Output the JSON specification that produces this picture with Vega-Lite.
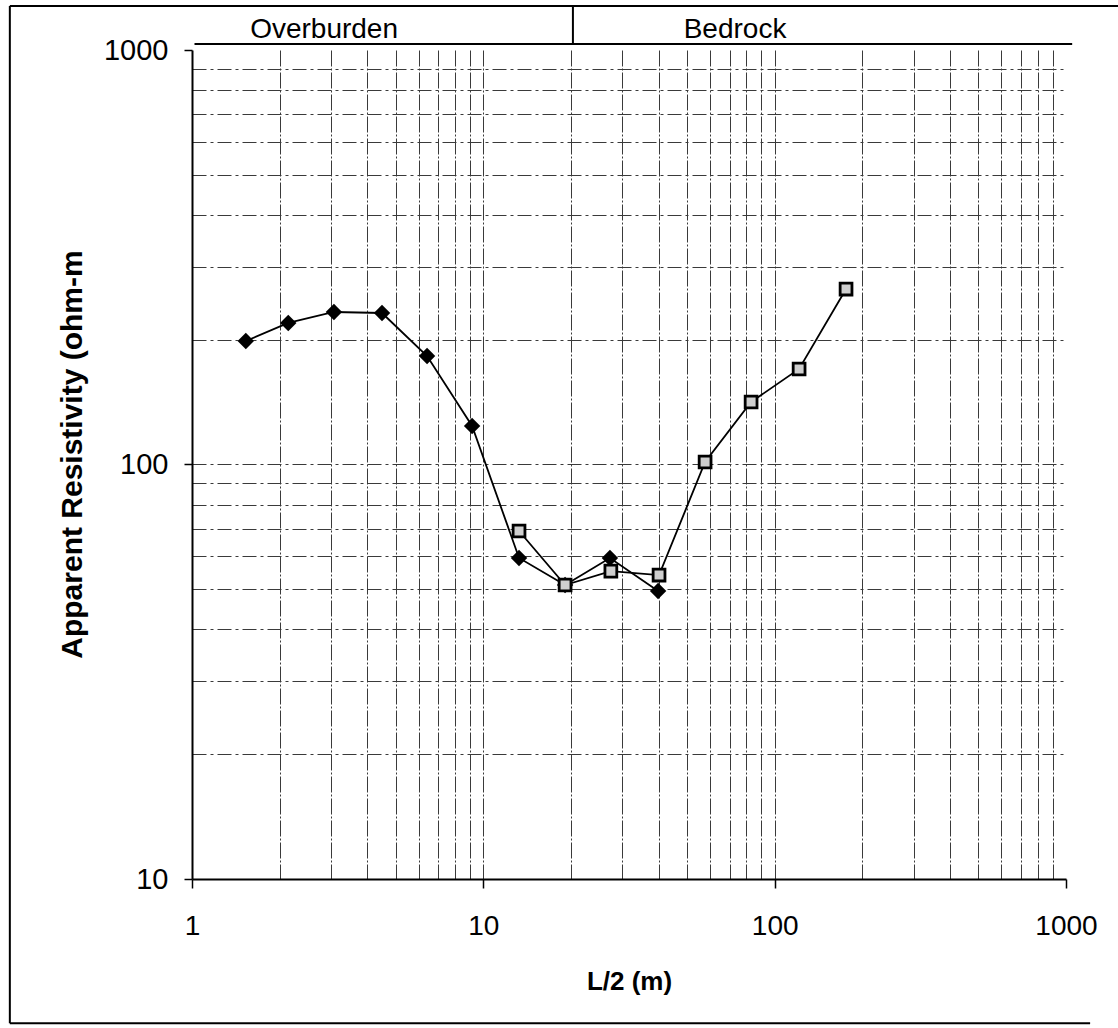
{
  "$schema": "https://vega.github.io/schema/vega-lite/v6.json",
  "width": 874,
  "height": 829,
  "autosize": {"type": "none"},
  "padding": {"left": 192, "top": 50, "right": 52, "bottom": 149},
  "background": "white",
  "config": {"view": {"stroke": null}, "font": "Liberation Sans"},
  "datasets": {
    "pts": [
      {"series": "Overburden fit", "i": 1, "x": 1.53, "y": 198.6},
      {"series": "Overburden fit", "i": 2, "x": 2.14, "y": 219.5},
      {"series": "Overburden fit", "i": 3, "x": 3.07, "y": 233.3},
      {"series": "Overburden fit", "i": 4, "x": 4.49, "y": 232},
      {"series": "Overburden fit", "i": 5, "x": 6.41, "y": 182.7},
      {"series": "Overburden fit", "i": 6, "x": 9.15, "y": 123.9},
      {"series": "Overburden fit", "i": 7, "x": 13.26, "y": 59.5},
      {"series": "Overburden fit", "i": 8, "x": 19.08, "y": 51.2},
      {"series": "Overburden fit", "i": 9, "x": 27.2, "y": 59.5},
      {"series": "Overburden fit", "i": 10, "x": 39.8, "y": 49.5},
      {"series": "Bedrock fit", "i": 1, "x": 13.26, "y": 69.1},
      {"series": "Bedrock fit", "i": 2, "x": 19.08, "y": 51.2},
      {"series": "Bedrock fit", "i": 3, "x": 27.4, "y": 55.3},
      {"series": "Bedrock fit", "i": 4, "x": 40.1, "y": 54.1},
      {"series": "Bedrock fit", "i": 5, "x": 57.7, "y": 101.4},
      {"series": "Bedrock fit", "i": 6, "x": 83.0, "y": 141.5},
      {"series": "Bedrock fit", "i": 7, "x": 121.3, "y": 170},
      {"series": "Bedrock fit", "i": 8, "x": 175.8, "y": 265}
    ],
    "frame": [
      {"part": "top", "x": 0.237, "y": 1277, "x2": 2000, "y2": 1277},
      {"part": "left", "x": 0.237, "y": 1277, "x2": 0.237, "y2": 4.49},
      {"part": "bottom", "x": 0.237, "y": 4.49, "x2": 1210, "y2": 4.49},
      {"part": "header bottom", "x": 1.02, "y": 1034, "x2": 1050, "y2": 1034},
      {"part": "divider", "x": 20.3, "y": 1277, "x2": 20.3, "y2": 1034}
    ],
    "header": [
      {"label": "Overburden", "x": 2.84, "y": 1069},
      {"label": "Bedrock", "x": 73.1, "y": 1069}
    ]
  },
  "layer": [
    {
      "data": {"name": "pts"},
      "transform": [{"filter": "datum.series == 'Overburden fit'"}],
      "mark": {"type": "line", "color": "black", "strokeWidth": 1.8},
      "encoding": {
        "x": {
          "field": "x", "type": "quantitative",
          "scale": {"type": "log", "domain": [1, 1000], "nice": false},
          "axis": {
            "title": "L/2 (m)",
            "titleFont": "Liberation Sans", "titleFontSize": 26, "titleFontWeight": "bold", "titleColor": "black", "titlePadding": 28,
            "values": [1, 2, 3, 4, 5, 6, 7, 8, 9, 10, 20, 30, 40, 50, 60, 70, 80, 90, 100, 200, 300, 400, 500, 600, 700, 800, 900, 1000],
            "labelExpr": "indexof([1,10,100,1000], datum.value) >= 0 ? format(datum.value, 'd') : ''",
            "labelOverlap": false, "labelFlush": false,
            "labelFontSize": 28, "labelColor": "black", "labelPadding": 24,
            "domainColor": "black", "domainWidth": 2,
            "tickColor": "black", "tickWidth": 1.5, "tickSize": 9,
            "tickOpacity": {"condition": {"test": "indexof([1,10,100,1000], datum.value) >= 0", "value": 1}, "value": 0},
            "grid": true, "gridColor": "#3a3a3a", "gridWidth": 1, "gridDash": [16, 2, 2, 2],
            "gridOpacity": {"condition": {"test": "datum.value == 1 || datum.value == 1000", "value": 0}, "value": 1}
          }
        },
        "y": {
          "field": "y", "type": "quantitative",
          "scale": {"type": "log", "domain": [10, 1000], "nice": false},
          "axis": {
            "title": "Apparent Resistivity (ohm-m",
            "titleFont": "Liberation Sans", "titleFontSize": 30, "titleFontWeight": "bold", "titleColor": "black", "titlePadding": 16,
            "titleY": 404,
            "values": [10, 20, 30, 40, 50, 60, 70, 80, 90, 100, 200, 300, 400, 500, 600, 700, 800, 900, 1000],
            "labelExpr": "indexof([10,100,1000], datum.value) >= 0 ? format(datum.value, 'd') : ''",
            "labelOverlap": false, "labelFlush": false,
            "labelFontSize": 29, "labelColor": "black", "labelPadding": 16,
            "domainColor": "black", "domainWidth": 2,
            "tickColor": "black", "tickWidth": 1.5, "tickSize": 8,
            "tickOpacity": {"condition": {"test": "indexof([10,100,1000], datum.value) >= 0", "value": 1}, "value": 0},
            "grid": true, "gridColor": "#3a3a3a", "gridWidth": 1, "gridDash": [14, 4, 3, 4],
            "gridOpacity": {"condition": {"test": "datum.value == 10 || datum.value == 1000", "value": 0}, "value": 1}
          }
        },
        "order": {"field": "i", "type": "quantitative"}
      }
    },
    {
      "data": {"name": "pts"},
      "transform": [{"filter": "datum.series == 'Bedrock fit'"}],
      "mark": {"type": "line", "color": "black", "strokeWidth": 1.8},
      "encoding": {
        "x": {"field": "x", "type": "quantitative"},
        "y": {"field": "y", "type": "quantitative"},
        "order": {"field": "i", "type": "quantitative"}
      }
    },
    {
      "data": {"name": "pts"},
      "transform": [{"filter": "datum.series == 'Overburden fit'"}],
      "mark": {"type": "point", "shape": "diamond", "filled": true, "color": "black", "size": 270, "opacity": 1},
      "encoding": {
        "x": {"field": "x", "type": "quantitative"},
        "y": {"field": "y", "type": "quantitative"}
      }
    },
    {
      "data": {"name": "pts"},
      "transform": [{"filter": "datum.series == 'Bedrock fit'"}],
      "mark": {"type": "point", "shape": "square", "filled": true, "fill": "#cfcfcf", "stroke": "black", "strokeWidth": 2.8, "size": 140, "opacity": 1},
      "encoding": {
        "x": {"field": "x", "type": "quantitative"},
        "y": {"field": "y", "type": "quantitative"}
      }
    },
    {
      "data": {"name": "frame"},
      "mark": {"type": "rule", "color": "black", "strokeWidth": 2},
      "encoding": {
        "x": {"field": "x", "type": "quantitative"},
        "y": {"field": "y", "type": "quantitative"},
        "x2": {"field": "x2"},
        "y2": {"field": "y2"}
      }
    },
    {
      "data": {"name": "header"},
      "mark": {"type": "text", "fontSize": 28, "font": "Liberation Sans", "color": "black", "align": "center", "baseline": "alphabetic"},
      "encoding": {
        "x": {"field": "x", "type": "quantitative"},
        "y": {"field": "y", "type": "quantitative"},
        "text": {"field": "label"}
      }
    }
  ]
}
